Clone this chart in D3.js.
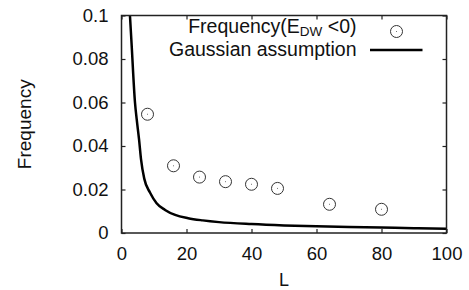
<!DOCTYPE html>
<html>
<head>
<meta charset="UTF-8">
<title>Frequency vs L</title>
<style>
  body { margin: 0; background: #fff; }
  text { font-family: "Liberation Sans", Arial, Helvetica, sans-serif; fill: #111; }
</style>
</head>
<body>
<div id="chart"></div>
<script src="https://d3js.org/d3.v7.min.js"></script>
<script>
    // data
    var sizesL = [8, 16, 24, 32, 40, 48, 64, 80];
    var freqNeg = [0.0546, 0.0309, 0.0257, 0.0236, 0.0224, 0.0205, 0.0132, 0.0109];
    var gaussL = [2.6, 3.1, 4.15, 4.7, 5.4, 6.0, 7.0, 8.8, 10.8, 13.4, 16.5, 20.5, 25, 30, 40, 50, 60, 70, 80, 90, 100];
    var gaussFreq = [0.1, 0.087, 0.06, 0.052, 0.043, 0.034, 0.025, 0.0185, 0.0137, 0.0106, 0.0083, 0.0068, 0.0058, 0.005, 0.0041, 0.0035, 0.0031, 0.0028, 0.0025, 0.0022, 0.002];
    var xTicks = [0, 20, 40, 60, 80, 100];
    var yTicks = [0, 0.02, 0.04, 0.06, 0.08, 0.1];
    var yTickLabels = ["0", "0.02", "0.04", "0.06", "0.08", "0.1"];

    var outerWidth = 469, outerHeight = 290;
    var margin = {top: 15.5, right: 22.5, bottom: 57, left: 121.5},
        width = outerWidth - margin.left - margin.right,
        height = outerHeight - margin.top - margin.bottom;

    var svg = d3.select("#chart").append("svg")
        .attr("width", outerWidth)
        .attr("height", outerHeight);

    var g = svg.append("g")
        .attr("transform", `translate(${margin.left},${margin.top})`);

    var x = d3.scaleLinear().domain([0, 100]).range([0, width]);
    var y = d3.scaleLinear().domain([0, 0.1]).range([height, 0]);

    g.append("clipPath").attr("id", "clip")
        .append("rect").attr("width", width).attr("height", height);

    // axes, ticks pointing inward
    g.append("g")
        .attr("transform", `translate(0,${height})`)
        .call(d3.axisBottom(x).tickValues(xTicks).tickSize(-4).tickPadding(14).tickFormat(d3.format("d")));
    g.append("g")
        .call(d3.axisLeft(y).tickValues(yTicks).tickSize(-4).tickPadding(13)
            .tickFormat((d, i) => yTickLabels[i]));
    g.append("g")
        .call(d3.axisTop(x).tickValues(xTicks).tickSize(-4).tickFormat(""));
    g.append("g")
        .attr("transform", `translate(${width},0)`)
        .call(d3.axisRight(y).tickValues(yTicks).tickSize(-4).tickFormat(""));

    g.selectAll(".domain").remove();
    g.selectAll(".tick line").attr("stroke", "#222").attr("stroke-width", 1.2);
    g.selectAll(".tick text")
        .style("font-size", "18.5px")
        .style("font-family", "'Liberation Sans', Arial, sans-serif")
        .attr("fill", "#111");

    // gaussian curve
    var line = d3.line()
        .x((d, i) => x(gaussL[i]))
        .y(d => y(d))
        .curve(d3.curveMonotoneX);
    g.append("path")
        .datum(gaussFreq)
        .attr("clip-path", "url(#clip)")
        .attr("d", line)
        .attr("fill", "none")
        .attr("stroke", "#000")
        .attr("stroke-width", 2.5);

    // frequency points
    var pts = g.append("g");
    pts.selectAll("circle")
        .data(freqNeg)
        .enter().append("circle")
        .attr("cx", (d, i) => x(sizesL[i]))
        .attr("cy", d => y(d))
        .attr("r", 6)
        .attr("fill", "none")
        .attr("stroke", "#333")
        .attr("stroke-width", 1);
    pts.selectAll("rect")
        .data(freqNeg)
        .enter().append("rect")
        .attr("x", (d, i) => x(sizesL[i]) - 0.5)
        .attr("y", d => y(d) - 0.5)
        .attr("width", 1).attr("height", 1)
        .attr("fill", "#777");

    // frame
    g.append("rect")
        .attr("width", width).attr("height", height)
        .attr("fill", "none")
        .attr("stroke", "#222")
        .attr("stroke-width", 1.5);

    // legend
    var legend = g.append("g").style("font-size", "19.5px");
    var t1 = legend.append("text")
        .attr("x", 235).attr("y", 17.5)
        .attr("text-anchor", "end");
    t1.append("tspan").text("Frequency(E");
    t1.append("tspan").attr("dy", 3).style("font-size", "13.5px").text("DW");
    t1.append("tspan").attr("dy", -3).text(" <0)");
    legend.append("circle")
        .attr("cx", 275).attr("cy", 16).attr("r", 6)
        .attr("fill", "none").attr("stroke", "#333").attr("stroke-width", 1);
    legend.append("rect")
        .attr("x", 274.5).attr("y", 15.5).attr("width", 1).attr("height", 1).attr("fill", "#777");

    legend.append("text")
        .attr("x", 235).attr("y", 40)
        .attr("text-anchor", "end")
        .text("Gaussian assumption");
    legend.append("line")
        .attr("x1", 248.5).attr("x2", 301)
        .attr("y1", 34.5).attr("y2", 34.5)
        .attr("stroke", "#000").attr("stroke-width", 2.5);

    // axis titles
    svg.append("text")
        .attr("x", margin.left + width / 2).attr("y", 286)
        .attr("text-anchor", "middle")
        .style("font-size", "18px")
        .text("L");
    svg.append("text")
        .attr("transform", `translate(31,${margin.top + height / 2}) rotate(-90)`)
        .attr("text-anchor", "middle")
        .style("font-size", "19px")
        .text("Frequency");
</script>
</body>
</html>
